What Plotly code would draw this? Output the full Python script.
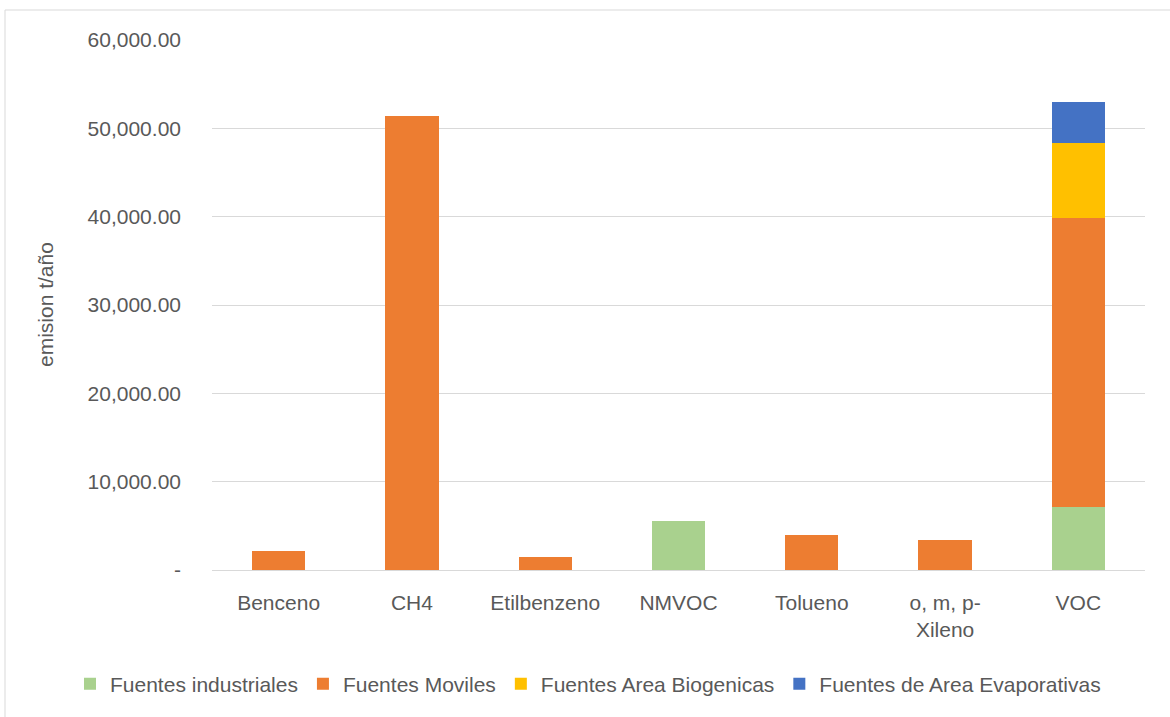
import plotly.graph_objects as go

categories = ["Benceno", "CH4", "Etilbenzeno", "NMVOC", "Tolueno", "o, m, p-<br>Xileno", "VOC"]
industriales = [0, 0, 0, 5540, 0, 0, 7120]
moviles = [2150, 51400, 1470, 0, 3960, 3400, 32710]
biogenicas = [0, 0, 0, 0, 0, 0, 8550]
evaporativas = [0, 0, 0, 0, 0, 0, 4640]
tick_vals = [0, 10000, 20000, 30000, 40000, 50000, 60000]
tick_text = ["-", "10,000.00", "20,000.00", "30,000.00", "40,000.00", "50,000.00", "60,000.00"]

series = [
    ("Fuentes industriales", industriales, "#A9D18E"),
    ("Fuentes Moviles", moviles, "#ED7D31"),
    ("Fuentes Area Biogenicas", biogenicas, "#FFC000"),
    ("Fuentes de Area Evaporativas", evaporativas, "#4472C4"),
]

font_family = "Liberation Sans, Arial, sans-serif"
txt = "#595959"

W, H = 1170, 717
L, R, T, B = 212, 1145, 40, 570
pw, ph = R - L, B - T

fig = go.Figure()
for name, vals, color in series:
    fig.add_trace(go.Bar(
        x=categories, y=vals, name=name,
        marker=dict(color=color, line=dict(width=0)),
    ))

fig.update_layout(
    barmode="stack",
    bargap=0.6,
    width=W, height=H,
    paper_bgcolor="white", plot_bgcolor="white",
    margin=dict(l=L, r=W - R, t=T, b=H - B, autoexpand=False),
    font=dict(family=font_family, size=21, color=txt),
    showlegend=True,
    legend=dict(
        orientation="h",
        x=(70 - L) / pw, xanchor="left", y=-(684 - B) / ph, yanchor="middle",
        font=dict(size=21, color=txt), traceorder="normal",
        itemwidth=30, tracegroupgap=0, bgcolor="rgba(0,0,0,0)",
    ),
    xaxis=dict(
        showgrid=False, showline=False, zeroline=False,
        tickfont=dict(size=21, color=txt), ticks="", ticklabelstandoff=18,
    ),
    yaxis=dict(
        range=[0, 60000], tickvals=tick_vals, ticktext=tick_text,
        showgrid=True, gridcolor="#D9D9D9", gridwidth=1,
        zeroline=True, zerolinecolor="#D9D9D9", zerolinewidth=1,
        showline=False, ticks="", ticklabelstandoff=30,
        tickfont=dict(size=21, color=txt),
    ),
    annotations=[dict(
        text="emision t/año", textangle=-90, showarrow=False,
        xref="paper", yref="paper", x=(45 - L) / pw, y=(B - 305) / ph,
        xanchor="center", yanchor="middle",
        font=dict(size=21, color=txt),
    )],
    shapes=[dict(type="rect", xref="paper", yref="paper",
                 x0=(5 - L) / pw, x1=(1180 - L) / pw, y0=-(730 - B) / ph, y1=1 + (T - 10) / ph,
                 line=dict(color="#D9D9D9", width=1), fillcolor="rgba(0,0,0,0)", layer="below")],
)

fig.write_html("out.html", config={"displayModeBar": False},
               post_script="document.body.style.margin='0';")
